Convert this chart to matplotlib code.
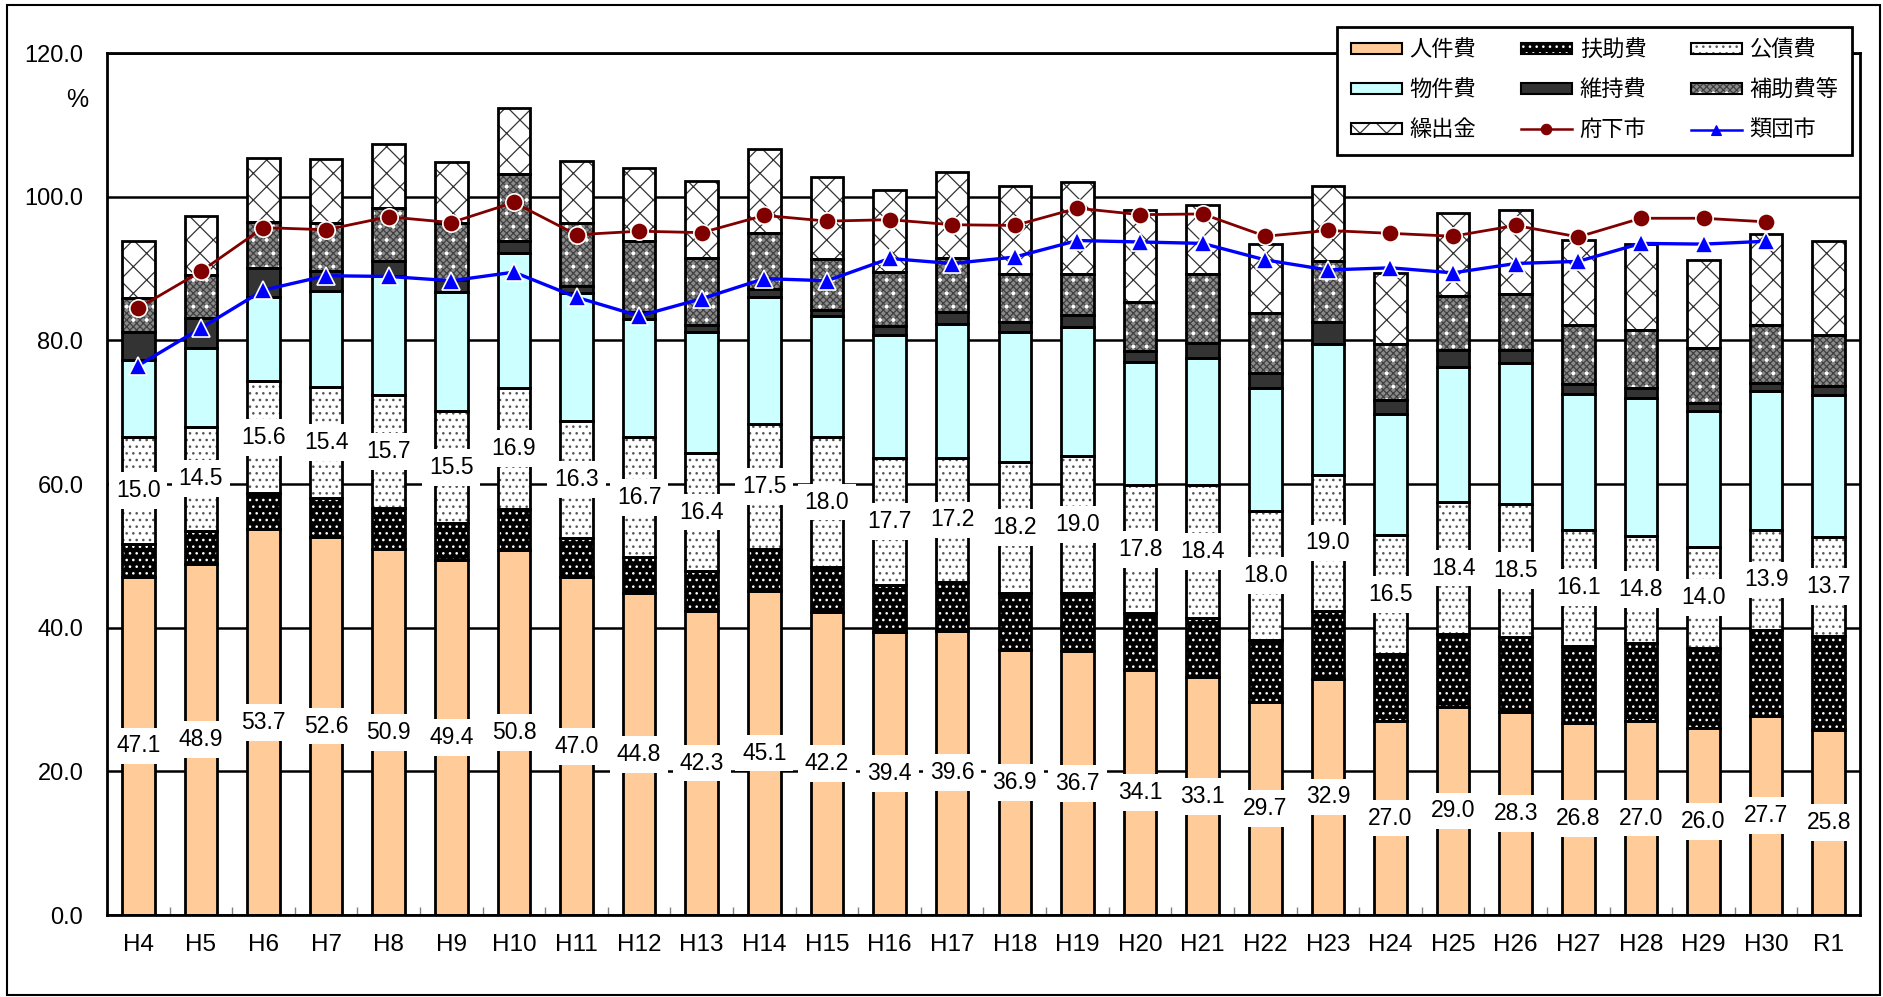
import numpy as np
import matplotlib
matplotlib.use("Agg")
import matplotlib.pyplot as plt
from matplotlib import font_manager
from matplotlib.patches import Patch, Rectangle
from matplotlib.lines import Line2D

# 年度
years = ["H4", "H5", "H6", "H7", "H8", "H9", "H10", "H11", "H12", "H13",
         "H14", "H15", "H16", "H17", "H18", "H19", "H20", "H21", "H22", "H23",
         "H24", "H25", "H26", "H27", "H28", "H29", "H30", "R1"]

# 経常収支比率の内訳 (%)
jinken = [47.1, 48.9, 53.7, 52.6, 50.9, 49.4, 50.8, 47.0, 44.8, 42.3,
          45.1, 42.2, 39.4, 39.6, 36.9, 36.7, 34.1, 33.1, 29.7, 32.9,
          27.0, 29.0, 28.3, 26.8, 27.0, 26.0, 27.7, 25.8]
fujo = [4.5, 4.6, 5.0, 5.5, 5.8, 5.2, 5.7, 5.5, 5.0, 5.6,
        5.8, 6.3, 6.5, 6.8, 8.0, 8.2, 7.9, 8.3, 8.6, 9.4,
        9.4, 10.1, 10.4, 10.7, 10.9, 11.2, 12.0, 13.1]
kosai = [15.0, 14.5, 15.6, 15.4, 15.7, 15.5, 16.9, 16.3, 16.7, 16.4,
         17.5, 18.0, 17.7, 17.2, 18.2, 19.0, 17.8, 18.4, 18.0, 19.0,
         16.5, 18.4, 18.5, 16.1, 14.8, 14.0, 13.9, 13.7]
bukken = [10.7, 11.0, 11.8, 13.4, 16.5, 16.6, 18.7, 17.8, 16.5, 16.9,
          17.7, 16.9, 17.2, 18.7, 18.0, 18.0, 17.2, 17.8, 17.1, 18.2,
          16.8, 18.8, 19.6, 18.9, 19.3, 18.9, 19.3, 19.8]
iji = [3.8, 4.1, 4.0, 2.8, 2.1, 1.7, 1.7, 1.0, 1.0, 1.0,
       1.0, 0.8, 1.2, 1.7, 1.5, 1.6, 1.5, 2.1, 2.0, 3.0,
       2.0, 2.3, 1.9, 1.4, 1.4, 1.2, 1.2, 1.3]
hojo = [4.8, 6.0, 6.4, 6.6, 7.4, 7.9, 9.3, 8.8, 9.8, 9.3,
        7.8, 7.1, 7.5, 7.5, 6.6, 5.8, 6.9, 9.5, 8.4, 8.5,
        7.8, 7.6, 7.8, 8.3, 8.0, 7.7, 8.1, 7.0]
kuridashi = [8.0, 8.2, 8.9, 8.9, 9.0, 8.5, 9.2, 8.6, 10.2, 10.7,
             11.8, 11.4, 11.5, 12.0, 12.3, 12.8, 12.7, 9.7, 9.6, 10.5,
             9.9, 11.6, 11.7, 11.8, 12.0, 12.2, 12.6, 13.1]

# 比較 (府下市平均, 類団市平均)
fuka = [84.5, 89.6, 95.7, 95.4, 97.2, 96.4, 99.2, 94.7, 95.2, 95.0,
        97.4, 96.6, 96.8, 96.1, 96.0, 98.4, 97.5, 97.6, 94.5, 95.3,
        94.9, 94.5, 96.0, 94.4, 97.0, 97.0, 96.5, np.nan]
ruidan = [76.5, 81.7, 87.0, 89.0, 88.9, 88.3, 89.5, 86.0, 83.4, 85.8,
          88.6, 88.3, 91.4, 90.7, 91.6, 93.9, 93.7, 93.5, 91.2, 89.8,
          90.1, 89.4, 90.7, 91.0, 93.5, 93.4, 93.8, np.nan]

# フォント
names = {f.name for f in font_manager.fontManager.ttflist}
num_font = "Liberation Sans Narrow" if "Liberation Sans Narrow" in names else "Liberation Sans"
plt.rcParams["font.family"] = [num_font, "Noto Sans CJK JP", "DejaVu Sans"]

# dpi 80 で描く (ハッチの目を細かくするため) -> pt 指定は S 倍
DPI = 80
S = 100 / DPI
plt.rcParams["hatch.linewidth"] = 0.9 * S

fig = plt.figure(figsize=(1883 / DPI, 997 / DPI), dpi=DPI)
fig.subplots_adjust(left=0.0568, right=0.9878, top=0.9468, bottom=0.0822)
ax = fig.add_subplot(111)

x = np.arange(len(years))
w = 0.52
OUT = 2.0 * S

# 系列ごとの塗り・ハッチ
segments = [
    ("人件費", jinken, "#FFCC99", []),
    ("扶助費", fujo, "black", [("..", "white")]),
    ("公債費", kosai, "white", [("..", "#555555")]),
    ("物件費", bukken, "#CCFFFF", []),
    ("維持費", iji, "#333333", []),
    ("補助費等", hojo, "#8a8a8a", [("xxxx", "#404040"), (".", "white")]),
    ("繰出金", kuridashi, "white", [("x", "#333333")]),
]

bottom = np.zeros(len(years))
handles = {}
for name, vals, face, hatches in segments:
    vals = np.array(vals)
    ax.bar(x, vals, w, bottom=bottom, color=face, edgecolor="none", zorder=2)
    for pat, hc in hatches:
        ax.bar(x, vals, w, bottom=bottom, color="none", edgecolor=hc,
               hatch=pat, linewidth=0, zorder=2)
    ax.bar(x, vals, w, bottom=bottom, color="none", edgecolor="black",
           linewidth=OUT, zorder=3)

    # 凡例用
    h = [Patch(facecolor=face, edgecolor="none")]
    for pat, hc in hatches:
        h.append(Patch(facecolor="none", edgecolor=hc, hatch=pat, linewidth=0))
    h.append(Patch(facecolor="none", edgecolor="black", linewidth=1.5 * S))
    handles[name] = tuple(h)

    # 人件費・公債費のラベル
    if name in ("人件費", "公債費"):
        for xi, b, v in zip(x, bottom, vals):
            ax.text(xi, b + v / 2, f"{v:.1f}", ha="center", va="center",
                    fontsize=16.5 * S, zorder=6,
                    bbox=dict(boxstyle="square,pad=0.3", fc="white", ec="none"))
    bottom = bottom + vals

# 折れ線
ax.plot(x, fuka, color="#800000", lw=2.0 * S, marker="o", markersize=12.5 * S,
        markerfacecolor="#800000", markeredgecolor="white",
        markeredgewidth=1.2 * S, zorder=7)
ax.plot(x, ruidan, color="#0000FF", lw=2.4 * S, marker="^", markersize=12.5 * S,
        markerfacecolor="#0000FF", markeredgecolor="white",
        markeredgewidth=1.2 * S, zorder=7)
handles["府下市"] = Line2D([], [], color="#800000", lw=1.8 * S, marker="o",
                         markersize=7.5 * S, markerfacecolor="#800000",
                         markeredgecolor="#800000")
handles["類団市"] = Line2D([], [], color="#0000FF", lw=1.8 * S, marker="^",
                         markersize=7.5 * S, markerfacecolor="#0000FF",
                         markeredgecolor="#0000FF")

# 軸
ax.set_xlim(-0.5, len(years) - 0.5)
ax.set_ylim(0, 120)
ax.set_yticks(np.arange(0, 121, 20))
ax.set_yticklabels([f"{v:.1f}" for v in np.arange(0, 121, 20)])
ax.set_xticks(x)
ax.set_xticklabels(years)
ax.set_xticks(x[:-1] + 0.5, minor=True)
ax.tick_params(axis="y", length=0, pad=17 * S, labelsize=17 * S)
ax.tick_params(axis="x", which="major", length=0, pad=14 * S, labelsize=17.5 * S)
ax.tick_params(axis="x", which="minor", direction="in", length=6 * S,
               width=1 * S, color="gray")
ax.yaxis.grid(True, color="black", linewidth=1.8 * S)
ax.set_axisbelow(True)
for s in ax.spines.values():
    s.set_linewidth(2.0 * S)
    s.set_color("black")

fig.text(77 / 1883, 1 - 100 / 997, "%", ha="center", va="center",
         fontsize=18 * S)

# 凡例 (3列)
order = ["人件費", "物件費", "繰出金", "扶助費", "維持費", "府下市",
         "公債費", "補助費等", "類団市"]
leg = fig.legend([handles[n] for n in order], order, ncol=3,
                 loc="upper right", bbox_to_anchor=(1852 / 1883, 1 - 27 / 997),
                 fontsize=16 * S, frameon=True, fancybox=False, framealpha=1,
                 edgecolor="black", borderpad=0.6, handlelength=2.3,
                 handleheight=0.4, handletextpad=0.35, columnspacing=2.0,
                 labelspacing=0.85, borderaxespad=0)
leg.get_frame().set_linewidth(2.0 * S)
leg.set_zorder(10)

# 外枠
fig.patches.append(Rectangle((7 / 1883, 2 / 997), 1873 / 1883, 990 / 997,
                             transform=fig.transFigure, fill=False,
                             edgecolor="black", linewidth=1.5 * S))

plt.savefig("out.png", dpi=DPI)
plt.close()
